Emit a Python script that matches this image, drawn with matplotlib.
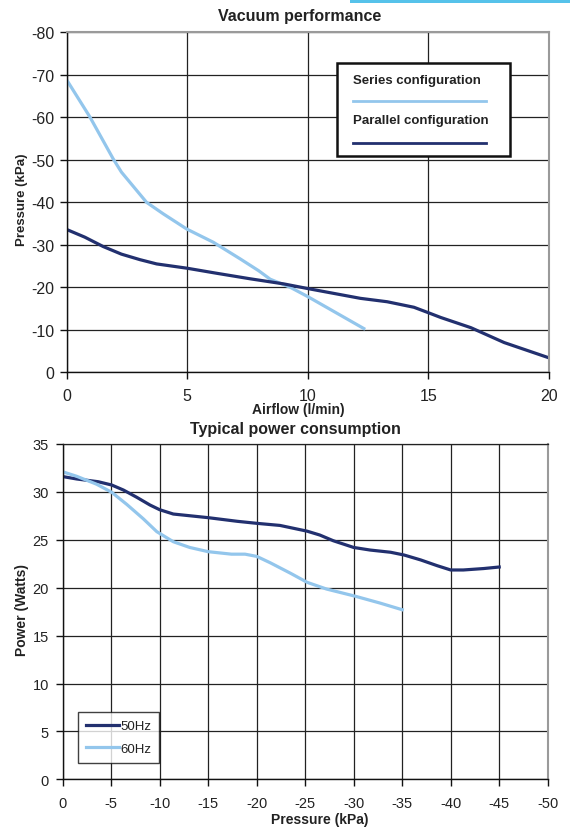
import matplotlib
matplotlib.use("Agg")
import matplotlib.pyplot as plt
from matplotlib.lines import Line2D
from matplotlib.patches import Rectangle

plt.rcParams["font.family"] = ["Liberation Sans", "DejaVu Sans"]
plt.rcParams["axes.unicode_minus"] = False

DARK = "#22306F"
LIGHT = "#93C6EC"
GRID = "#222222"
EDGE = "#9A9A9A"

# vacuum performance: airflow (l/min) vs pressure (kPa)
series_flow = [0, 0.96, 1.93, 2.27, 3.31, 4.0, 4.98, 6.08, 7.19, 7.96, 8.44, 9.27, 10.0, 12.32]
series_pressure = [-68.8, -60.1, -50.2, -47.1, -40.0, -37.3, -33.7, -30.6, -26.7, -23.9,
                   -21.9, -20.0, -17.8, -10.3]
parallel_flow = [0, 0.75, 1.51, 2.27, 3.04, 3.73, 4.98, 6.22, 7.61, 9.0, 10.0, 12.18, 13.29,
                 14.4, 14.96, 15.51, 16.76, 18.14, 20.0]
parallel_pressure = [-33.6, -31.8, -29.6, -27.8, -26.5, -25.5, -24.5, -23.3, -22.0, -20.8,
                     -19.7, -17.4, -16.6, -15.3, -14.1, -12.9, -10.5, -7.0, -3.4]

# power consumption: pressure (kPa) vs power (W)
p50 = [0, -1.44, -3.67, -5.05, -6.25, -7.63, -9.0, -10.0, -11.4, -15.0, -18.0, -20.0, -22.4,
       -25.2, -26.5, -27.9, -30.0, -31.7, -33.8, -35.2, -36.9, -38.6, -40.0, -41.3, -43.4, -45.0]
w50 = [31.6, 31.35, 31.06, 30.72, 30.2, 29.44, 28.63, 28.14, 27.69, 27.31, 26.93, 26.72, 26.5,
       25.9, 25.5, 24.9, 24.2, 23.93, 23.7, 23.41, 22.9, 22.3, 21.85, 21.85, 22.0, 22.16]
p60 = [0, -1.44, -3.5, -5.05, -6.6, -8.3, -9.7, -11.4, -13.1, -15.0, -17.4, -18.8, -20.0,
       -21.4, -23.5, -25.2, -27.2, -30.2, -32.7, -35.0]
w60 = [32.1, 31.63, 30.8, 29.96, 28.7, 27.2, 25.85, 24.8, 24.2, 23.76, 23.5, 23.5, 23.27,
       22.6, 21.5, 20.56, 19.86, 19.1, 18.4, 17.7]

top_xticks = [0, 5, 10, 15, 20]
top_yticks = [0, -10, -20, -30, -40, -50, -60, -70, -80]
bot_xticks = [0, -5, -10, -15, -20, -25, -30, -35, -40, -45, -50]
bot_yticks = [0, 5, 10, 15, 20, 25, 30, 35]

W, H = 570, 829
fig = plt.figure(figsize=(W / 100, H / 100), dpi=100)


def fx(px):
    return px / W


def fy(py):
    return 1 - py / H


def style_axes(ax, size):
    for side in ("left", "bottom"):
        ax.spines[side].set_color("#111111")
        ax.spines[side].set_linewidth(1.0)
    for side in ("top", "right"):
        ax.spines[side].set_color(EDGE)
        ax.spines[side].set_linewidth(1.5)
    ax.grid(True, color=GRID, linewidth=0.9)
    ax.set_axisbelow(True)
    ax.tick_params(direction="out", length=5, width=1, color="#111111", labelsize=size,
                   labelcolor="#222222")


# ---- top chart ----
ax1 = fig.add_axes([fx(66.7), fy(373.3), fx(549) - fx(66.7), fy(33.3) - fy(373.3)])
ax1.plot(series_flow, series_pressure, color=LIGHT, linewidth=2.3, solid_joinstyle="round")
ax1.plot(parallel_flow, parallel_pressure, color=DARK, linewidth=2.3, solid_joinstyle="round")
ax1.set_xlim(0, 20)
ax1.set_ylim(0, -80)
ax1.set_xticks(top_xticks)
ax1.set_yticks(top_yticks)
style_axes(ax1, 11.5)
ax1.tick_params(axis="x", pad=6)
ax1.tick_params(axis="y", pad=4)
fig.text(fx(300), fy(16), "Vacuum performance", ha="center", va="center",
         fontsize=11.5, fontweight="bold", color="#222222")
fig.text(fx(22), fy(200), "Pressure (kPa)", ha="center", va="center", rotation=90,
         fontsize=9.5, fontweight="bold", color="#222222")
fig.text(fx(298), fy(410), "Airflow (l/min)", ha="center", va="center",
         fontsize=10, fontweight="bold", color="#222222")

# manual legend box (text above each line)
fig.add_artist(Rectangle((fx(336.7), fy(157.3)), fx(510) - fx(336.7), fy(64) - fy(157.3),
                         transform=fig.transFigure, facecolor="white", edgecolor="#111111",
                         linewidth=1.8, zorder=5))
fig.text(fx(353), fy(81), "Series configuration", ha="left", va="center", fontsize=9.5,
         fontweight="bold", color="#222222", zorder=6)
fig.add_artist(Line2D([fx(353), fx(486)], [fy(102), fy(102)], transform=fig.transFigure,
                      color=LIGHT, linewidth=2.0, zorder=6))
fig.text(fx(353), fy(121), "Parallel configuration", ha="left", va="center", fontsize=9.5,
         fontweight="bold", color="#222222", zorder=6)
fig.add_artist(Line2D([fx(353), fx(486)], [fy(144), fy(144)], transform=fig.transFigure,
                      color=DARK, linewidth=2.0, zorder=6))

# ---- bottom chart ----
ax2 = fig.add_axes([fx(62.7), fy(780.3), fx(547.7) - fx(62.7), fy(445) - fy(780.3)])
ax2.plot(p50, w50, color=DARK, linewidth=2.3, solid_joinstyle="round", label="50Hz")
ax2.plot(p60, w60, color=LIGHT, linewidth=2.3, solid_joinstyle="round", label="60Hz")
ax2.set_xlim(0, -50)
ax2.set_ylim(0, 35)
ax2.set_xticks(bot_xticks)
ax2.set_yticks(bot_yticks)
style_axes(ax2, 10.5)
ax2.spines["top"].set_color(GRID)
ax2.spines["top"].set_linewidth(0.9)
ax2.tick_params(axis="x", pad=7)
ax2.tick_params(axis="y", pad=5)
leg = ax2.legend(loc="upper left", bbox_to_anchor=(fx(78), fy(713)),
                 bbox_transform=fig.transFigure, fontsize=9.5, frameon=True, fancybox=False,
                 handlelength=2.5, handletextpad=0.1, borderpad=0.6, labelspacing=0.8,
                 borderaxespad=0)
leg.get_frame().set_edgecolor("#111111")
leg.get_frame().set_linewidth(1.0)
for t in leg.get_texts():
    t.set_color("#222222")

fig.text(fx(295), fy(430), "Typical power consumption", ha="center", va="center",
         fontsize=11.5, fontweight="bold", color="#222222")
fig.text(fx(22), fy(610), "Power (Watts)", ha="center", va="center", rotation=90,
         fontsize=10, fontweight="bold", color="#222222")
fig.text(fx(320), fy(820), "Pressure (kPa)", ha="center", va="center",
         fontsize=10, fontweight="bold", color="#222222")

# page header strip top right
fig.add_artist(Rectangle((fx(350), fy(4)), 1 - fx(350), 4 / H, transform=fig.transFigure,
                         facecolor="#56C2EA", edgecolor="none", zorder=6))

fig.savefig("out.png", dpi=100)
